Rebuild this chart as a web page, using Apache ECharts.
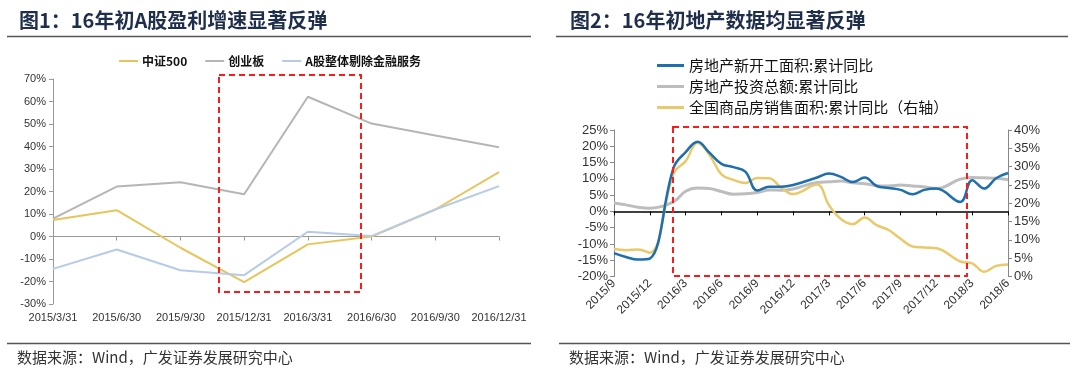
<!DOCTYPE html>
<html>
<head>
<meta charset="utf-8">
<script src="https://cdn.jsdelivr.net/npm/echarts@6/dist/echarts.min.js"></script>
<style>
html,body{margin:0;padding:0;background:#fff;}
#main{width:1080px;height:383px;}
</style>
</head>
<body>
<div id="main"></div>
<script>
// ---- Chart 1 data ----
var quarters = ['2015/3/31','2015/6/30','2015/9/30','2015/12/31','2016/3/31','2016/6/30','2016/9/30','2016/12/31'];
var zz500 = [7.3, 11.7, -5.0, -20.3, -3.5, 0.0, 12.0, 28.6];
var cyb = [7.9, 22.2, 24.1, 18.8, 62.1, 50.2, 44.9, 39.7];
var aExFin = [-14.4, -5.8, -15.0, -17.2, 2.1, 0.2, 12.0, 22.4];
var names1 = ['中证500', '创业板', 'A股整体剔除金融服务'];

// ---- Chart 2 data ----
var months = ['2015/9','2015/10','2015/11','2015/12',
  '2016/1','2016/2','2016/3','2016/4','2016/5','2016/6','2016/7','2016/8','2016/9','2016/10','2016/11','2016/12',
  '2017/1','2017/2','2017/3','2017/4','2017/5','2017/6','2017/7','2017/8','2017/9','2017/10','2017/11','2017/12',
  '2018/1','2018/2','2018/3','2018/4','2018/5','2018/6'];
var newStart = [-12.8, -14.0, -14.8, -14.5,
  null, 13.5, 18.2, 21.4, 18.0, 14.6, 13.6, 12.2, 6.4, 7.6, 7.6, 8.1,
  null, 10.4, 11.6, 10.6, 9.0, 10.4, 7.8, 7.2, 6.6, 5.3, 6.6, 7.0,
  null, 2.9, 9.6, 7.0, 10.2, 11.8];
var invest = [2.6, 2.0, 1.3, 1.0,
  null, 3.0, 6.2, 7.2, 7.0, 6.1, 5.3, 5.4, 5.8, 6.6, 6.5, 6.9,
  null, 8.9, 9.1, 9.3, 8.8, 8.5, 7.9, 7.8, 8.1, 7.8, 7.5, 7.0,
  null, 9.9, 10.4, 10.3, 10.2, 9.7];
var sales = [7.5, 7.2, 7.4, 6.5,
  null, 28.2, 31.5, 36.5, 33.2, 27.9, 26.4, 25.5, 26.9, 26.8, 24.3, 22.5,
  null, 25.1, 19.5, 15.7, 14.3, 16.1, 14.0, 12.7, 10.3, 8.2, 7.9, 7.7,
  null, 4.1, 3.6, 1.3, 2.9, 3.3];
var names2 = ['房地产新开工面积:累计同比', '房地产投资总额:累计同比', '全国商品房销售面积:累计同比（右轴）'];

var FONT = 'Liberation Sans, Arial, Noto Sans CJK SC, sans-serif';
var CJK = 'Noto Sans CJK SC, sans-serif';
var pct = function (v) { return v + '%'; };

var chart = echarts.init(document.getElementById('main'), null, {renderer: 'canvas'});
var option = {
  animation: false,
  backgroundColor: '#fff',
  textStyle: {fontFamily: FONT},
  grid: [
    {left: 53, top: 79, width: 446, height: 225, containLabel: false},
    {left: 614, top: 130, width: 394, height: 146.5, containLabel: false}
  ],
  legend: [
    {
      data: names1, left: 114, top: 50, itemGap: 18, itemWidth: 19, itemHeight: 2, icon: 'rect',
      textStyle: {fontSize: 12, fontWeight: 'bold', color: '#111', fontFamily: CJK, padding: [0, 0, 0, -1]}
    },
    {
      data: names2, orient: 'vertical', left: 652, top: 53, itemGap: 6, itemWidth: 27, itemHeight: 3, icon: 'rect',
      textStyle: {fontSize: 15, color: '#111', fontFamily: CJK}
    }
  ],
  xAxis: [
    {gridIndex: 0, type: 'category', data: quarters, boundaryGap: false, position: 'bottom',
      axisLine: {show: false, onZero: false}, axisTick: {show: false},
      axisLabel: {interval: 0, fontSize: 11, color: '#333', margin: 8}},
    {gridIndex: 0, type: 'category', data: quarters, boundaryGap: false, position: 'bottom',
      axisLine: {show: true, onZero: true, onZeroAxisIndex: 0, lineStyle: {color: '#999', width: 1}},
      axisTick: {show: true, length: 4, interval: 0, lineStyle: {color: '#999'}},
      axisLabel: {show: false}},
    {gridIndex: 1, type: 'category', data: months, boundaryGap: false, position: 'bottom',
      axisLine: {show: false, onZero: false}, axisTick: {show: false},
      axisLabel: {interval: 2, rotate: 45, fontSize: 12, color: '#333', margin: 5}},
    {gridIndex: 1, type: 'category', data: months, boundaryGap: false, position: 'bottom',
      axisLine: {show: true, onZero: true, onZeroAxisIndex: 1, lineStyle: {color: '#000', width: 1.5}},
      axisTick: {show: true, length: 4, interval: 2, lineStyle: {color: '#000'}},
      axisLabel: {show: false}}
  ],
  yAxis: [
    {gridIndex: 0, type: 'value', min: -30, max: 70, interval: 10,
      axisLine: {show: true, lineStyle: {color: '#999'}}, axisTick: {show: true, length: 4, lineStyle: {color: '#999'}},
      splitLine: {show: false}, axisLabel: {formatter: pct, fontSize: 11, color: '#333', margin: 7}},
    {gridIndex: 1, type: 'value', min: -20, max: 25, interval: 5, position: 'left',
      axisLine: {show: true, lineStyle: {color: '#888'}}, axisTick: {show: true, length: 4, lineStyle: {color: '#888'}},
      splitLine: {show: false}, axisLabel: {formatter: pct, fontSize: 13, color: '#333', margin: 6}},
    {gridIndex: 1, type: 'value', min: 0, max: 40, interval: 5, position: 'right',
      axisLine: {show: true, lineStyle: {color: '#888'}}, axisTick: {show: true, length: 4, lineStyle: {color: '#888'}},
      splitLine: {show: false}, axisLabel: {formatter: pct, fontSize: 13, color: '#333', margin: 6}}
  ],
  series: [
    {name: names1[1], type: 'line', xAxisIndex: 0, yAxisIndex: 0, data: cyb, symbol: 'none',
      lineStyle: {color: '#B5B5B5', width: 2}, itemStyle: {color: '#B5B5B5'}},
    {name: names1[0], type: 'line', xAxisIndex: 0, yAxisIndex: 0, data: zz500, symbol: 'none',
      lineStyle: {color: '#E7C55C', width: 2}, itemStyle: {color: '#E7C55C'}},
    {name: names1[2], type: 'line', xAxisIndex: 0, yAxisIndex: 0, data: aExFin, symbol: 'none',
      lineStyle: {color: '#B7CAE6', width: 2}, itemStyle: {color: '#B7CAE6'}},
    {name: names2[1], type: 'line', xAxisIndex: 2, yAxisIndex: 1, data: invest, symbol: 'none', smooth: 0.4, connectNulls: true,
      lineStyle: {color: '#BDBDBD', width: 3}, itemStyle: {color: '#BDBDBD'}},
    {name: names2[2], type: 'line', xAxisIndex: 2, yAxisIndex: 2, data: sales, symbol: 'none', smooth: 0.4, connectNulls: true,
      lineStyle: {color: '#E9C96A', width: 2.5}, itemStyle: {color: '#E9C96A'}},
    {name: names2[0], type: 'line', xAxisIndex: 2, yAxisIndex: 1, data: newStart, symbol: 'none', smooth: 0.4, connectNulls: true,
      lineStyle: {color: '#1F6EAE', width: 2.5}, itemStyle: {color: '#1F6EAE'}}
  ],
  graphic: [
    {type: 'text', left: 19, top: 10, style: {text: '图1：16年初A股盈利增速显著反弹', font: 'bold 20px ' + CJK, fill: '#1E2E4B'}},
    {type: 'text', left: 570, top: 10, style: {text: '图2：16年初地产数据均显著反弹', font: 'bold 20px ' + CJK, fill: '#1E2E4B'}},
    {type: 'line', shape: {x1: 7, y1: 36.5, x2: 531, y2: 36.5}, style: {stroke: '#555', lineWidth: 1.5}},
    {type: 'line', shape: {x1: 556, y1: 36.5, x2: 1068, y2: 36.5}, style: {stroke: '#555', lineWidth: 1.5}},
    {type: 'line', shape: {x1: 7, y1: 343.5, x2: 531, y2: 343.5}, style: {stroke: '#555', lineWidth: 1.5}},
    {type: 'line', shape: {x1: 559, y1: 343.5, x2: 1070, y2: 343.5}, style: {stroke: '#555', lineWidth: 1.5}},
    {type: 'text', left: 17, top: 350, style: {text: '数据来源：Wind，广发证券发展研究中心', font: '15px ' + CJK, fill: '#333'}},
    {type: 'text', left: 569, top: 350, style: {text: '数据来源：Wind，广发证券发展研究中心', font: '15px ' + CJK, fill: '#333'}},
    {type: 'rect', shape: {x: 219, y: 75, width: 142, height: 217}, style: {fill: 'none', stroke: '#FF1A1A', lineWidth: 2, lineDash: [6, 4]}, z: 10},
    {type: 'rect', shape: {x: 673, y: 127, width: 294, height: 149}, style: {fill: 'none', stroke: '#FF1A1A', lineWidth: 2, lineDash: [6, 4]}, z: 10}
  ]
};
chart.setOption(option);
</script>
</body>
</html>
